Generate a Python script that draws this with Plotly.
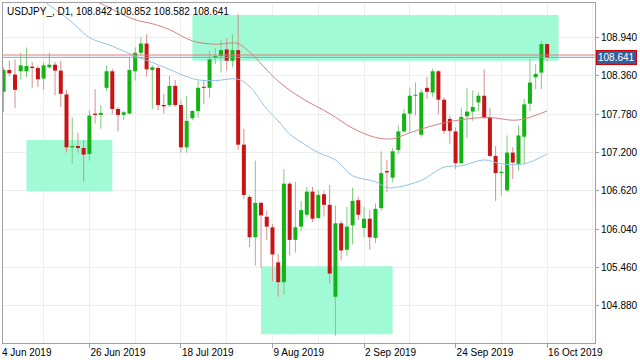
import plotly.graph_objects as go

# ---------------- data ----------------
title_text = "USDJPY_, D1, 108.842 108.852 108.582 108.641"

# bar index 1 = 5 Jun 2019 ... 96 = 16 Oct 2019 (index 0 = 4 Jun 2019)
bar_idx = list(range(1, 97))
open_ = [108.12, 108.45, 108.38, 108.43, 108.43, 108.50, 108.48, 108.32, 108.49, 108.53,
         108.44, 108.08, 107.28, 107.30, 107.27, 107.18, 107.79, 107.77, 108.18, 108.43,
         107.86, 107.77, 107.79, 108.43, 108.71, 108.85, 108.45, 108.48, 107.92, 107.92,
         108.21, 107.92, 107.28, 107.72, 107.83, 108.19, 108.18, 108.63, 108.66, 108.76,
         108.59, 108.75, 107.32, 106.53, 105.92, 106.44, 106.23, 106.07, 105.54, 105.24,
         106.73, 105.88, 106.08, 106.26, 106.61, 106.21, 106.57, 106.41, 105.02, 106.13,
         105.73, 106.10, 106.48, 106.06, 106.20, 105.91, 106.36, 106.92, 106.82, 107.24,
         107.52, 107.79, 108.06, 107.47, 108.18, 108.11, 108.43, 108.00, 107.71, 107.52,
         107.04, 107.75, 107.82, 107.96, 108.06, 107.73, 107.15, 106.89, 106.63, 107.20,
         107.03, 107.44, 107.94, 108.34, 108.41, 108.842]
high = [108.49, 108.59, 108.61, 108.71, 108.79, 108.57, 108.51, 108.57, 108.71, 108.57,
        108.59, 108.15, 107.73, 107.50, 107.39, 107.84, 108.16, 107.92, 108.52, 108.47,
        107.89, 107.83, 108.64, 108.79, 108.95, 108.99, 108.52, 108.51, 108.09, 108.36,
        108.30, 107.99, 108.06, 107.84, 108.29, 108.29, 108.74, 108.78, 108.90, 108.93,
        108.99, 109.30, 107.56, 106.56, 107.08, 106.46, 106.32, 106.12, 105.67, 106.95,
        106.75, 106.76, 106.47, 106.68, 106.68, 106.63, 106.62, 106.71, 106.40, 106.17,
        106.38, 106.67, 106.53, 106.38, 106.33, 106.43, 107.22, 107.09, 107.27, 107.61,
        107.86, 108.18, 108.26, 108.16, 108.35, 108.47, 108.45, 108.03, 107.76, 107.58,
        107.88, 108.17, 108.14, 108.11, 108.46, 107.88, 107.30, 107.00, 107.46, 107.28,
        107.61, 108.01, 108.61, 108.54, 108.89, 108.852]
low = [107.81, 108.36, 107.87, 108.30, 108.34, 108.18, 108.19, 108.15, 108.47, 108.07,
       107.89, 107.20, 107.03, 107.20, 106.76, 107.08, 107.64, 107.56, 108.13, 107.78,
       107.52, 107.69, 107.78, 108.29, 108.67, 108.35, 107.86, 107.84, 107.79, 107.89,
       107.89, 107.20, 107.20, 107.69, 107.73, 107.93, 108.03, 108.54, 108.41, 108.44,
       108.49, 107.24, 106.50, 105.77, 105.49, 105.46, 105.88, 105.25, 105.02, 105.05,
       105.64, 105.69, 106.01, 106.22, 106.15, 106.20, 106.23, 105.22, 104.43, 105.57,
       105.64, 105.81, 106.18, 105.92, 105.73, 105.83, 106.32, 106.60, 106.75, 107.18,
       107.50, 107.50, 107.76, 107.44, 108.01, 108.04, 107.78, 107.48, 107.33, 106.95,
       107.03, 107.42, 107.68, 107.83, 107.71, 107.13, 106.47, 106.55, 106.60, 106.80,
       106.93, 107.03, 107.83, 108.16, 108.16, 108.582]
close = [108.45, 108.40, 108.15, 108.52, 108.51, 108.48, 108.31, 108.52, 108.53, 108.44,
         108.09, 107.28, 107.30, 107.27, 107.17, 107.76, 107.77, 107.80, 108.43, 107.86,
         107.77, 107.81, 108.45, 108.71, 108.85, 108.46, 108.49, 107.92, 107.90, 108.21,
         107.92, 107.28, 107.68, 107.83, 108.18, 108.18, 108.61, 108.66, 108.75, 108.59,
         108.75, 107.32, 106.56, 105.92, 106.44, 106.25, 106.08, 105.66, 105.24, 106.73,
         105.88, 106.07, 106.33, 106.61, 106.20, 106.56, 106.41, 105.37, 106.13, 105.72,
         106.08, 106.47, 106.26, 106.20, 105.92, 106.35, 106.89, 106.90, 107.22, 107.52,
         107.79, 108.06, 108.07, 108.11, 108.12, 108.43, 108.00, 107.53, 107.53, 107.04,
         107.74, 107.82, 107.89, 108.06, 107.73, 107.15, 106.89, 106.91, 107.20, 107.05,
         107.46, 107.93, 108.26, 108.39, 108.84, 108.641]

# moving averages at selected bars
ma_slow_idx = [14, 17, 24, 27, 30, 34, 38, 41, 42, 44, 49, 53, 58, 62, 66, 69, 72, 77, 82, 86, 90, 92, 96]
ma_slow_val = [109.64, 109.50, 109.21, 109.15, 109.06, 108.89, 108.84, 108.86, 108.85, 108.72,
               108.28, 108.03, 107.79, 107.57, 107.43, 107.41, 107.50, 107.63, 107.71, 107.73,
               107.69, 107.71, 107.83]
ma_fast_idx = [5, 8, 12, 14, 16, 20, 24, 28, 33, 35, 38, 42, 44, 47, 49, 51, 53, 56, 59, 62,
               66, 68, 70, 74, 78, 81, 85, 88, 92, 96]
ma_fast_val = [109.68, 109.49, 109.24, 109.09, 108.94, 108.81, 108.66, 108.53, 108.35, 108.30,
               108.29, 108.31, 108.20, 107.86, 107.68, 107.48, 107.36, 107.20, 107.09, 106.85,
               106.76, 106.67, 106.68, 106.78, 106.98, 107.00, 107.09, 107.03, 107.03, 107.18]

bid_price = 108.641
ask_price = 108.676

# drawn rectangles: (bar from, bar to, price low, price high)
zone_x0 = [34, 5, 46]
zone_x1 = [98, 20, 69]
zone_y0 = [108.589, 106.617, 104.451]
zone_y1 = [109.282, 107.392, 105.481]

price_ticks = [108.940, 108.360, 107.780, 107.200, 106.620, 106.040, 105.460, 104.880]
date_tick_idx = [0, 16, 32, 48, 64, 80, 96]
date_tick_lbl = ["4 Jun 2019", "26 Jun 2019", "18 Jul 2019", "9 Aug 2019",
                 "2 Sep 2019", "24 Sep 2019", "16 Oct 2019"]
grid_minor_idx = [8, 24, 40, 56, 72, 88, 104]

# ---------------- styling ----------------
X_RANGE = [0.90, 104.37]
Y_RANGE = [104.320, 109.463]
FONT = "Liberation Sans, Arial, sans-serif"
UP_BODY, DN_BODY = "#12b312", "#c81414"
UP_WICK, DN_WICK = "#7dcc7d", "#d98e8e"
ZONE = "#a0fad6"
GRID = "#eeeeee"
FRAME = "#a0a0a0"


def segs(xs, a, b):
    X, Y = [], []
    for x, p, q in zip(xs, a, b):
        X += [x, x, None]
        Y += [p, q, None]
    return X, Y


up = [c >= o for o, c in zip(open_, close)]
fig = go.Figure()

for flag, col in ((True, UP_WICK), (False, DN_WICK)):
    sel = [k for k, u in enumerate(up) if u == flag]
    X, Y = segs([bar_idx[k] for k in sel], [low[k] for k in sel], [high[k] for k in sel])
    fig.add_trace(go.Scatter(x=X, y=Y, mode="lines", line=dict(color=col, width=1),
                             hoverinfo="skip", showlegend=False))

for flag, col in ((True, UP_BODY), (False, DN_BODY)):
    sel = [k for k, u in enumerate(up) if u == flag]
    lo_b = [min(open_[k], close[k]) for k in sel]
    hi_b = [max(max(open_[k], close[k]), min(open_[k], close[k]) + 0.015) for k in sel]
    X, Y = segs([bar_idx[k] for k in sel], lo_b, hi_b)
    fig.add_trace(go.Scatter(x=X, y=Y, mode="lines", line=dict(color=col, width=4),
                             hoverinfo="skip", showlegend=False))

fig.add_trace(go.Scatter(x=ma_slow_idx, y=ma_slow_val, mode="lines",
                         line=dict(color="#d88080", width=1, shape="spline"),
                         hoverinfo="skip", showlegend=False))
fig.add_trace(go.Scatter(x=ma_fast_idx, y=ma_fast_val, mode="lines",
                         line=dict(color="#8fc4e6", width=1, shape="spline"),
                         hoverinfo="skip", showlegend=False))

shapes = []
for x0, x1, y0, y1 in zip(zone_x0, zone_x1, zone_y0, zone_y1):
    shapes.append(dict(type="rect", xref="x", yref="y", x0=x0, x1=x1, y0=y0, y1=y1,
                       fillcolor=ZONE, line=dict(width=0), layer="between"))
shapes.append(dict(type="line", xref="paper", yref="y", x0=0, x1=1, y0=ask_price, y1=ask_price,
                   line=dict(color="#e07a7a", width=1), layer="above"))
shapes.append(dict(type="line", xref="paper", yref="y", x0=0, x1=1, y0=bid_price, y1=bid_price,
                   line=dict(color="#8aa0cc", width=1), layer="above"))

annotations = [
    dict(text=title_text, xref="paper", yref="paper", x=0, y=1, xanchor="left", yanchor="top",
         xshift=2, yshift=-1, showarrow=False, font=dict(family=FONT, size=10, color="#000000")),
    dict(text=f"{bid_price:.3f}", xref="paper", yref="y", x=1, y=bid_price,
         xanchor="left", yanchor="middle", xshift=1, showarrow=False,
         bgcolor="#2f5f9f", bordercolor="#d40000", borderwidth=1, borderpad=1,
         font=dict(family=FONT, size=10, color="#ffffff")),
]
# first date label sits left of the visible range (cut by the window edge)
first_paper = (date_tick_idx[0] - X_RANGE[0]) / (X_RANGE[1] - X_RANGE[0])
annotations.append(dict(text=date_tick_lbl[0], xref="paper", yref="paper", x=first_paper, y=0,
                        xanchor="left", yanchor="top", xshift=2, yshift=-2, showarrow=False,
                        font=dict(family=FONT, size=10, color="#000000")))

fig.update_layout(
    width=640, height=360,
    margin=dict(l=2, r=42, t=2, b=17),
    paper_bgcolor="white", plot_bgcolor="white",
    showlegend=False,
    shapes=shapes, annotations=annotations,
    font=dict(family=FONT, size=10, color="#000000"),
)
fig.update_xaxes(
    range=X_RANGE, tickvals=date_tick_idx[1:], ticktext=date_tick_lbl[1:],
    ticklabelposition="outside right", ticks="outside", ticklen=4, tickcolor=FRAME,
    showgrid=True, gridcolor=GRID, gridwidth=1,
    minor=dict(tickvals=grid_minor_idx, showgrid=True, gridcolor=GRID, ticks=""),
    showline=True, linecolor=FRAME, linewidth=1, mirror=True, zeroline=False,
    tickfont=dict(family=FONT, size=10, color="#000000"),
)
fig.update_yaxes(
    range=Y_RANGE, side="right", tickvals=price_ticks, tickformat=".3f",
    ticks="outside", ticklen=3, tickcolor=FRAME,
    showgrid=True, gridcolor=GRID, gridwidth=1,
    showline=True, linecolor=FRAME, linewidth=1, mirror=True, zeroline=False,
    tickfont=dict(family=FONT, size=10, color="#000000"),
)

fig.write_html("out.html")
